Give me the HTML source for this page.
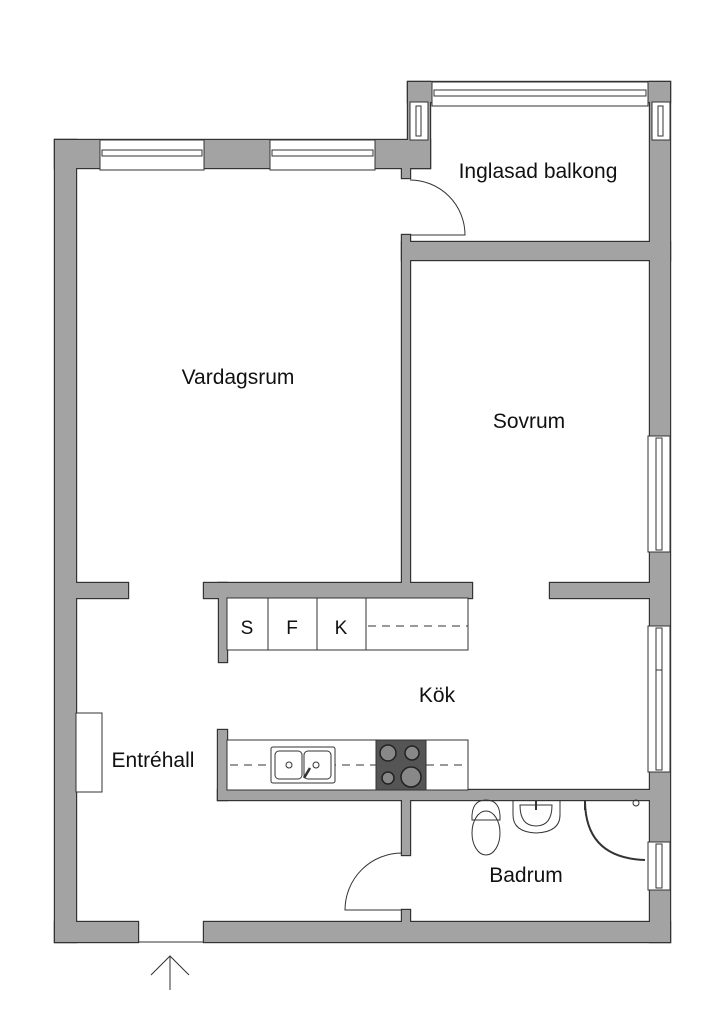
<!DOCTYPE html>
<html><head><meta charset="utf-8"><style>
html,body{margin:0;padding:0;background:#fff;width:724px;height:1024px;overflow:hidden}
svg{display:block}
text{font-family:"Liberation Sans",sans-serif;font-size:21px;fill:#111}
</style></head><body>
<svg width="724" height="1024" viewBox="0 0 724 1024" xmlns="http://www.w3.org/2000/svg">
<defs>
<g id="walls">
<rect x="55" y="140" width="21" height="802"/>
<rect x="55" y="140" width="375" height="28"/>
<rect x="402" y="160" width="8" height="18"/>
<rect x="408" y="82" width="262" height="20"/>
<rect x="408" y="82" width="22" height="86"/>
<rect x="650" y="82" width="20" height="860"/>
<rect x="402" y="242" width="268" height="18"/>
<rect x="402" y="235" width="8" height="355"/>
<rect x="55" y="922" width="83" height="20"/>
<rect x="204" y="922" width="466" height="20"/>
<rect x="75" y="583" width="53" height="15"/>
<rect x="204" y="583" width="268" height="15"/>
<rect x="219" y="583" width="8" height="79"/>
<rect x="550" y="583" width="100" height="15"/>
<rect x="218" y="730" width="9" height="70"/>
<rect x="218" y="790" width="432" height="10"/>
<rect x="402" y="795" width="8" height="60"/>
<rect x="402" y="910" width="8" height="15"/>
</g>
</defs>
<use href="#walls" fill="#333" stroke="#333" stroke-width="2.4"/>
<use href="#walls" fill="#a3a3a3"/>
<g fill="#fff" stroke="#333" stroke-width="1">
<rect x="100" y="140" width="104" height="30"/>
<rect x="102" y="150" width="100" height="6"/>
<rect x="270" y="140" width="105" height="30"/>
<rect x="272" y="150" width="101" height="6"/>
<rect x="432" y="82" width="216" height="24"/>
<rect x="434" y="90" width="212" height="6"/>
<rect x="410" y="102" width="18" height="38"/>
<rect x="416" y="106" width="5" height="30"/>
<rect x="652" y="102" width="18" height="38"/>
<rect x="658" y="106" width="5" height="30"/>
<rect x="648" y="436" width="22" height="116"/>
<rect x="656" y="438" width="6" height="112"/>
<rect x="648" y="626" width="22" height="146"/>
<rect x="656" y="628" width="6" height="142"/>
<line x1="656" y1="670" x2="662" y2="670"/>
<rect x="648" y="842" width="22" height="48"/>
<rect x="656" y="844" width="6" height="44"/>
<rect x="76" y="713" width="26" height="79"/>
<rect x="227" y="598" width="241" height="52"/>
<line x1="268" y1="598" x2="268" y2="650"/>
<line x1="317" y1="598" x2="317" y2="650"/>
<line x1="366" y1="598" x2="366" y2="650"/>
<rect x="227" y="740" width="241" height="50"/>
</g>
<g stroke="#333" stroke-width="1" stroke-dasharray="8,6" fill="none">
<line x1="368" y1="626" x2="468" y2="626"/>
<line x1="230" y1="765" x2="468" y2="765"/>
</g>
<g fill="#fff" stroke="#333" stroke-width="1">
<rect x="271" y="747" width="64" height="36" rx="2"/>
<rect x="275" y="751" width="27" height="28" rx="4"/>
<rect x="304" y="751" width="27" height="28" rx="4"/>
<circle cx="289" cy="765" r="3"/><circle cx="316" cy="765" r="3"/>
<line x1="304" y1="778" x2="310" y2="768" stroke-width="2.5"/>
</g>
<rect x="376" y="740" width="50" height="50" fill="#555" stroke="#333"/>
<g fill="#888" stroke="#222" stroke-width="1.5">
<circle cx="388" cy="753" r="8"/><circle cx="412" cy="753" r="7"/>
<circle cx="388" cy="778" r="6"/><circle cx="411" cy="777" r="10"/>
</g>
<g fill="none" stroke="#333" stroke-width="1">
<path d="M410 235 H465 A55 55 0 0 0 410 180"/>
<path d="M402 910 H345 A57 57 0 0 1 402 853"/>
<path d="M472 820 Q471 800 486 800 Q501 800 500 820 Z"/>
<ellipse cx="486" cy="833" rx="14" ry="22"/>
<path d="M513 800 V815 Q513 832 536 833 Q560 832 560 815 V800"/>
<path d="M520 805 Q520 826 536 826 Q552 826 552 805 Z"/>
<line x1="536" y1="800" x2="536" y2="810" stroke-width="2"/>
<path d="M585 802 Q586 858 645 860" stroke-width="2"/>
<line x1="585" y1="800" x2="585" y2="810" stroke-width="2"/>
<line x1="170" y1="990" x2="170" y2="956"/>
<polyline points="151,975 170,956 189,975"/>
<line x1="138" y1="942" x2="204" y2="942"/>
</g>
<circle cx="636" cy="803" r="3" fill="none" stroke="#333"/>
<text x="538" y="178" text-anchor="middle">Inglasad balkong</text>
<text x="238" y="384" text-anchor="middle">Vardagsrum</text>
<text x="529" y="428" text-anchor="middle">Sovrum</text>
<text x="437" y="702" text-anchor="middle">Kök</text>
<text x="153" y="767" text-anchor="middle">Entréhall</text>
<text x="526" y="882" text-anchor="middle">Badrum</text>
<text x="247" y="634" text-anchor="middle" style="font-size:19px">S</text>
<text x="292" y="634" text-anchor="middle" style="font-size:19px">F</text>
<text x="341" y="634" text-anchor="middle" style="font-size:19px">K</text>
</svg>
</body></html>
